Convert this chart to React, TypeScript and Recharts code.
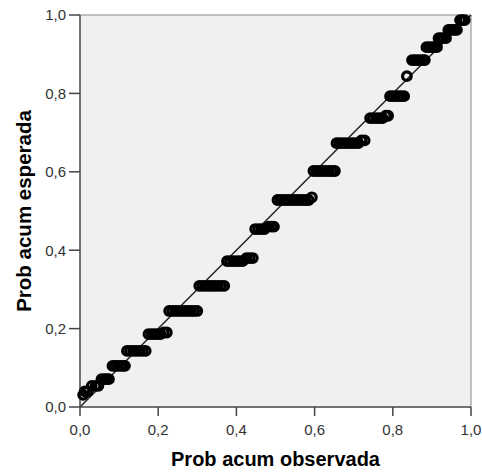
import React from "react";
import {
  ScatterChart,
  Scatter,
  XAxis,
  YAxis,
  CartesianGrid,
  ReferenceLine,
  Label,
} from "recharts";

// Expected cumulative probability (y) of each step of points
const expectedLevels = [
  0.031, 0.04, 0.054, 0.071, 0.105, 0.143, 0.186, 0.19, 0.245, 0.309, 0.372,
  0.38, 0.454, 0.46, 0.528, 0.535, 0.602, 0.673, 0.68, 0.737, 0.743, 0.793,
  0.844, 0.885, 0.918, 0.941, 0.962, 0.987,
];

// Observed cumulative probabilities (x) of the points at each level
const observedAtLevel = [
  [0.008],
  [0.012, 0.02],
  [0.03, 0.04, 0.047],
  [0.055, 0.062, 0.068, 0.074],
  [0.083, 0.09, 0.097, 0.104, 0.11, 0.115],
  [0.12, 0.128, 0.136, 0.144, 0.152, 0.16, 0.168],
  [0.175, 0.183, 0.19, 0.198, 0.206],
  [0.214, 0.222],
  [0.228, 0.236, 0.244, 0.252, 0.26, 0.268, 0.276, 0.284, 0.292, 0.3],
  [0.305, 0.313, 0.321, 0.329, 0.337, 0.345, 0.353, 0.361, 0.369],
  [0.376, 0.384, 0.392, 0.4, 0.408, 0.416],
  [0.426, 0.434, 0.442],
  [0.448, 0.456, 0.464, 0.472],
  [0.482, 0.49, 0.496],
  [0.505, 0.513, 0.521, 0.529, 0.537, 0.545, 0.553, 0.561, 0.569, 0.577, 0.585],
  [0.593],
  [0.597, 0.605, 0.613, 0.621, 0.629, 0.637, 0.645, 0.652],
  [0.656, 0.664, 0.672, 0.68, 0.688, 0.696, 0.704, 0.712],
  [0.72, 0.728],
  [0.742, 0.75, 0.758, 0.766, 0.774],
  [0.782, 0.788],
  [0.793, 0.8, 0.808, 0.815, 0.822, 0.829],
  [0.836],
  [0.849, 0.856, 0.863, 0.87, 0.877, 0.882],
  [0.886, 0.893, 0.9, 0.907, 0.913],
  [0.917, 0.923, 0.929, 0.936],
  [0.942, 0.948, 0.954, 0.96, 0.964],
  [0.972, 0.978, 0.984],
];

const axisTicks = [0, 0.2, 0.4, 0.6, 0.8, 1.0];
const xTitle = "Prob acum observada";
const yTitle = "Prob acum esperada";

const points = observedAtLevel.flatMap((xs, i) =>
  xs.map((x) => ({ x, y: expectedLevels[i] }))
);

const fmt = (v: number) => v.toFixed(1).replace(".", ",");

const tickStyle = {
  fontFamily: "'Liberation Sans', Arial, sans-serif",
  fontSize: 15,
  fill: "#333",
};

const Dot = (props: any) => (
  <circle
    cx={props.cx}
    cy={props.cy}
    r={4.3}
    fill="none"
    stroke="#000"
    strokeWidth={3.2}
  />
);

const XTitle = (props: any) => {
  const vb = props.viewBox;
  return (
    <text
      x={vb.x + vb.width / 2}
      y={vb.y + 59}
      textAnchor="middle"
      fontFamily="'Liberation Sans', Arial, sans-serif"
      fontWeight="bold"
      fontSize={20}
      fill="#000"
    >
      {xTitle}
    </text>
  );
};

const YTitle = (props: any) => {
  const vb = props.viewBox;
  const x = vb.x + 31;
  const y = vb.y + vb.height / 2;
  return (
    <text
      x={x}
      y={y}
      transform={`rotate(-90, ${x}, ${y})`}
      textAnchor="middle"
      fontFamily="'Liberation Sans', Arial, sans-serif"
      fontWeight="bold"
      fontSize={20.5}
      fill="#000"
    >
      {yTitle}
    </text>
  );
};

export default function App() {
  return (
    <div style={{ position: "absolute", left: 0, top: 0, background: "#fff" }}>
      <ScatterChart
        width={482}
        height={472}
        margin={{ top: 15, right: 11, bottom: 0, left: 0 }}
      >
        <CartesianGrid
          fill="#f0f0f0"
          horizontal={false}
          vertical={false}
          stroke="none"
        />
        <XAxis
          type="number"
          dataKey="x"
          domain={[0, 1]}
          ticks={axisTicks}
          tickFormatter={fmt}
          height={65}
          tickSize={9}
          tickMargin={8}
          tick={tickStyle}
          axisLine={{ stroke: "#444", strokeWidth: 1.5 }}
          tickLine={{ stroke: "#444", strokeWidth: 1.5 }}
          interval={0}
        >
          <Label content={XTitle} />
        </XAxis>
        <YAxis
          type="number"
          dataKey="y"
          domain={[0, 1]}
          ticks={axisTicks}
          tickFormatter={fmt}
          width={80}
          tickSize={11}
          tickMargin={3}
          tick={tickStyle}
          axisLine={{ stroke: "#444", strokeWidth: 1.5 }}
          tickLine={{ stroke: "#444", strokeWidth: 1.5 }}
          interval={0}
        >
          <Label content={YTitle} />
        </YAxis>
        <ReferenceLine y={1} stroke="#888" strokeWidth={1} />
        <ReferenceLine x={1} stroke="#888" strokeWidth={1} />
        <Scatter data={points} shape={Dot} isAnimationActive={false} />
        <ReferenceLine
          segment={[
            { x: 0, y: 0 },
            { x: 1, y: 1 },
          ]}
          stroke="#222"
          strokeWidth={1.5}
        />
      </ScatterChart>
    </div>
  );
}
